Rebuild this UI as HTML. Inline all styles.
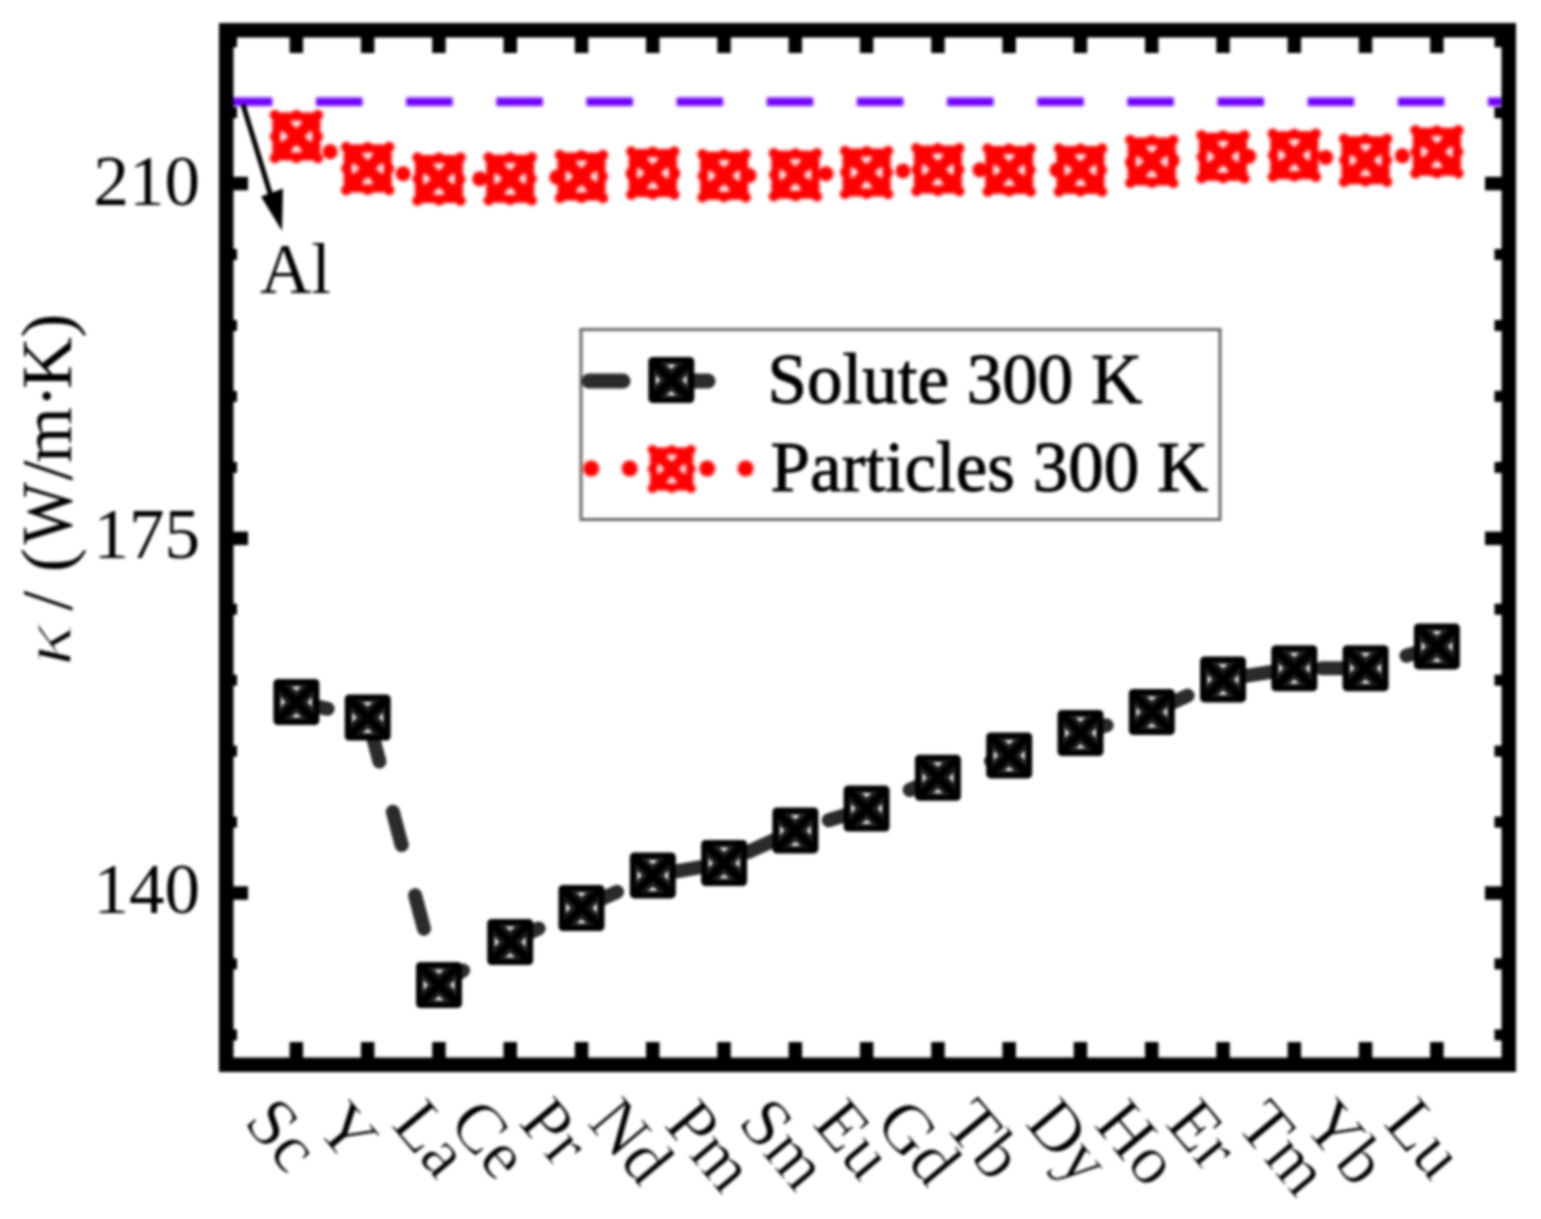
<!DOCTYPE html>
<html><head><meta charset="utf-8"><title>Thermal conductivity chart</title>
<style>html,body{margin:0;padding:0;background:#fff;}svg{display:block;filter:blur(1.4px);}</style></head>
<body><svg width="1541" height="1219" viewBox="0 0 1541 1219">
<defs><filter id="cb" filterUnits="userSpaceOnUse" x="0" y="0" width="1541" height="1219"><feGaussianBlur stdDeviation="1.3"/></filter></defs>
<rect width="1541" height="1219" fill="#fff"/>
<line x1="225.85" y1="101.8" x2="1502" y2="101.8" stroke="#7000ff" stroke-width="8.5" stroke-dasharray="46.5 43.65" filter="url(#cb)"/>
<polyline points="296.4,702.0 367.7,717.5 439.0,985.0 510.2,942.0 581.5,908.0 652.8,875.4 724.1,863.0 795.4,830.4 866.6,808.6 937.9,777.7 1009.2,755.4 1080.5,733.0 1151.8,712.0 1223.0,679.4 1294.3,668.3 1365.6,668.3 1436.9,646.4" fill="none" stroke="#2b2b2b" stroke-width="14" stroke-linecap="round" stroke-linejoin="round" stroke-dasharray="34.5 52" stroke-dashoffset="2.5"/>
<polyline points="296.4,136.5 367.7,168.5 439.0,179.0 510.2,178.7 581.5,176.5 652.8,173.0 724.1,175.8 795.4,174.8 866.6,172.4 937.9,169.6 1009.2,170.0 1080.5,170.0 1151.8,161.4 1223.0,156.8 1294.3,155.2 1365.6,160.2 1436.9,151.8" fill="none" stroke="#f00" stroke-width="15" stroke-linecap="round" stroke-dasharray="0 38.5" stroke-dashoffset="1.5" filter="url(#cb)"/>
<g transform="translate(296.4,702.0)"><rect x="-23" y="-23" width="46" height="46" rx="4.5" fill="#000"/><rect x="-17.5" y="-17.5" width="35" height="35" fill="#1f1f1f"/><path d="M-17.5,-17.5 L17.5,17.5 M17.5,-17.5 L-17.5,17.5" stroke="#000" stroke-width="7.5"/><path d="M-5,-15.5 L5,-15.5 L0,-11 Z M-5,15.5 L5,15.5 L0,11 Z M-15.5,-5 L-15.5,5 L-11,0 Z M15.5,-5 L15.5,5 L11,0 Z" fill="#e0e0e0"/></g>
<g transform="translate(367.7,717.5)"><rect x="-23" y="-23" width="46" height="46" rx="4.5" fill="#000"/><rect x="-17.5" y="-17.5" width="35" height="35" fill="#1f1f1f"/><path d="M-17.5,-17.5 L17.5,17.5 M17.5,-17.5 L-17.5,17.5" stroke="#000" stroke-width="7.5"/><path d="M-5,-15.5 L5,-15.5 L0,-11 Z M-5,15.5 L5,15.5 L0,11 Z M-15.5,-5 L-15.5,5 L-11,0 Z M15.5,-5 L15.5,5 L11,0 Z" fill="#e0e0e0"/></g>
<g transform="translate(439.0,985.0)"><rect x="-23" y="-23" width="46" height="46" rx="4.5" fill="#000"/><rect x="-17.5" y="-17.5" width="35" height="35" fill="#1f1f1f"/><path d="M-17.5,-17.5 L17.5,17.5 M17.5,-17.5 L-17.5,17.5" stroke="#000" stroke-width="7.5"/><path d="M-5,-15.5 L5,-15.5 L0,-11 Z M-5,15.5 L5,15.5 L0,11 Z M-15.5,-5 L-15.5,5 L-11,0 Z M15.5,-5 L15.5,5 L11,0 Z" fill="#e0e0e0"/></g>
<g transform="translate(510.2,942.0)"><rect x="-23" y="-23" width="46" height="46" rx="4.5" fill="#000"/><rect x="-17.5" y="-17.5" width="35" height="35" fill="#1f1f1f"/><path d="M-17.5,-17.5 L17.5,17.5 M17.5,-17.5 L-17.5,17.5" stroke="#000" stroke-width="7.5"/><path d="M-5,-15.5 L5,-15.5 L0,-11 Z M-5,15.5 L5,15.5 L0,11 Z M-15.5,-5 L-15.5,5 L-11,0 Z M15.5,-5 L15.5,5 L11,0 Z" fill="#e0e0e0"/></g>
<g transform="translate(581.5,908.0)"><rect x="-23" y="-23" width="46" height="46" rx="4.5" fill="#000"/><rect x="-17.5" y="-17.5" width="35" height="35" fill="#1f1f1f"/><path d="M-17.5,-17.5 L17.5,17.5 M17.5,-17.5 L-17.5,17.5" stroke="#000" stroke-width="7.5"/><path d="M-5,-15.5 L5,-15.5 L0,-11 Z M-5,15.5 L5,15.5 L0,11 Z M-15.5,-5 L-15.5,5 L-11,0 Z M15.5,-5 L15.5,5 L11,0 Z" fill="#e0e0e0"/></g>
<g transform="translate(652.8,875.4)"><rect x="-23" y="-23" width="46" height="46" rx="4.5" fill="#000"/><rect x="-17.5" y="-17.5" width="35" height="35" fill="#1f1f1f"/><path d="M-17.5,-17.5 L17.5,17.5 M17.5,-17.5 L-17.5,17.5" stroke="#000" stroke-width="7.5"/><path d="M-5,-15.5 L5,-15.5 L0,-11 Z M-5,15.5 L5,15.5 L0,11 Z M-15.5,-5 L-15.5,5 L-11,0 Z M15.5,-5 L15.5,5 L11,0 Z" fill="#e0e0e0"/></g>
<g transform="translate(724.1,863.0)"><rect x="-23" y="-23" width="46" height="46" rx="4.5" fill="#000"/><rect x="-17.5" y="-17.5" width="35" height="35" fill="#1f1f1f"/><path d="M-17.5,-17.5 L17.5,17.5 M17.5,-17.5 L-17.5,17.5" stroke="#000" stroke-width="7.5"/><path d="M-5,-15.5 L5,-15.5 L0,-11 Z M-5,15.5 L5,15.5 L0,11 Z M-15.5,-5 L-15.5,5 L-11,0 Z M15.5,-5 L15.5,5 L11,0 Z" fill="#e0e0e0"/></g>
<g transform="translate(795.4,830.4)"><rect x="-23" y="-23" width="46" height="46" rx="4.5" fill="#000"/><rect x="-17.5" y="-17.5" width="35" height="35" fill="#1f1f1f"/><path d="M-17.5,-17.5 L17.5,17.5 M17.5,-17.5 L-17.5,17.5" stroke="#000" stroke-width="7.5"/><path d="M-5,-15.5 L5,-15.5 L0,-11 Z M-5,15.5 L5,15.5 L0,11 Z M-15.5,-5 L-15.5,5 L-11,0 Z M15.5,-5 L15.5,5 L11,0 Z" fill="#e0e0e0"/></g>
<g transform="translate(866.6,808.6)"><rect x="-23" y="-23" width="46" height="46" rx="4.5" fill="#000"/><rect x="-17.5" y="-17.5" width="35" height="35" fill="#1f1f1f"/><path d="M-17.5,-17.5 L17.5,17.5 M17.5,-17.5 L-17.5,17.5" stroke="#000" stroke-width="7.5"/><path d="M-5,-15.5 L5,-15.5 L0,-11 Z M-5,15.5 L5,15.5 L0,11 Z M-15.5,-5 L-15.5,5 L-11,0 Z M15.5,-5 L15.5,5 L11,0 Z" fill="#e0e0e0"/></g>
<g transform="translate(937.9,777.7)"><rect x="-23" y="-23" width="46" height="46" rx="4.5" fill="#000"/><rect x="-17.5" y="-17.5" width="35" height="35" fill="#1f1f1f"/><path d="M-17.5,-17.5 L17.5,17.5 M17.5,-17.5 L-17.5,17.5" stroke="#000" stroke-width="7.5"/><path d="M-5,-15.5 L5,-15.5 L0,-11 Z M-5,15.5 L5,15.5 L0,11 Z M-15.5,-5 L-15.5,5 L-11,0 Z M15.5,-5 L15.5,5 L11,0 Z" fill="#e0e0e0"/></g>
<g transform="translate(1009.2,755.4)"><rect x="-23" y="-23" width="46" height="46" rx="4.5" fill="#000"/><rect x="-17.5" y="-17.5" width="35" height="35" fill="#1f1f1f"/><path d="M-17.5,-17.5 L17.5,17.5 M17.5,-17.5 L-17.5,17.5" stroke="#000" stroke-width="7.5"/><path d="M-5,-15.5 L5,-15.5 L0,-11 Z M-5,15.5 L5,15.5 L0,11 Z M-15.5,-5 L-15.5,5 L-11,0 Z M15.5,-5 L15.5,5 L11,0 Z" fill="#e0e0e0"/></g>
<g transform="translate(1080.5,733.0)"><rect x="-23" y="-23" width="46" height="46" rx="4.5" fill="#000"/><rect x="-17.5" y="-17.5" width="35" height="35" fill="#1f1f1f"/><path d="M-17.5,-17.5 L17.5,17.5 M17.5,-17.5 L-17.5,17.5" stroke="#000" stroke-width="7.5"/><path d="M-5,-15.5 L5,-15.5 L0,-11 Z M-5,15.5 L5,15.5 L0,11 Z M-15.5,-5 L-15.5,5 L-11,0 Z M15.5,-5 L15.5,5 L11,0 Z" fill="#e0e0e0"/></g>
<g transform="translate(1151.8,712.0)"><rect x="-23" y="-23" width="46" height="46" rx="4.5" fill="#000"/><rect x="-17.5" y="-17.5" width="35" height="35" fill="#1f1f1f"/><path d="M-17.5,-17.5 L17.5,17.5 M17.5,-17.5 L-17.5,17.5" stroke="#000" stroke-width="7.5"/><path d="M-5,-15.5 L5,-15.5 L0,-11 Z M-5,15.5 L5,15.5 L0,11 Z M-15.5,-5 L-15.5,5 L-11,0 Z M15.5,-5 L15.5,5 L11,0 Z" fill="#e0e0e0"/></g>
<g transform="translate(1223.0,679.4)"><rect x="-23" y="-23" width="46" height="46" rx="4.5" fill="#000"/><rect x="-17.5" y="-17.5" width="35" height="35" fill="#1f1f1f"/><path d="M-17.5,-17.5 L17.5,17.5 M17.5,-17.5 L-17.5,17.5" stroke="#000" stroke-width="7.5"/><path d="M-5,-15.5 L5,-15.5 L0,-11 Z M-5,15.5 L5,15.5 L0,11 Z M-15.5,-5 L-15.5,5 L-11,0 Z M15.5,-5 L15.5,5 L11,0 Z" fill="#e0e0e0"/></g>
<g transform="translate(1294.3,668.3)"><rect x="-23" y="-23" width="46" height="46" rx="4.5" fill="#000"/><rect x="-17.5" y="-17.5" width="35" height="35" fill="#1f1f1f"/><path d="M-17.5,-17.5 L17.5,17.5 M17.5,-17.5 L-17.5,17.5" stroke="#000" stroke-width="7.5"/><path d="M-5,-15.5 L5,-15.5 L0,-11 Z M-5,15.5 L5,15.5 L0,11 Z M-15.5,-5 L-15.5,5 L-11,0 Z M15.5,-5 L15.5,5 L11,0 Z" fill="#e0e0e0"/></g>
<g transform="translate(1365.6,668.3)"><rect x="-23" y="-23" width="46" height="46" rx="4.5" fill="#000"/><rect x="-17.5" y="-17.5" width="35" height="35" fill="#1f1f1f"/><path d="M-17.5,-17.5 L17.5,17.5 M17.5,-17.5 L-17.5,17.5" stroke="#000" stroke-width="7.5"/><path d="M-5,-15.5 L5,-15.5 L0,-11 Z M-5,15.5 L5,15.5 L0,11 Z M-15.5,-5 L-15.5,5 L-11,0 Z M15.5,-5 L15.5,5 L11,0 Z" fill="#e0e0e0"/></g>
<g transform="translate(1436.9,646.4)"><rect x="-23" y="-23" width="46" height="46" rx="4.5" fill="#000"/><rect x="-17.5" y="-17.5" width="35" height="35" fill="#1f1f1f"/><path d="M-17.5,-17.5 L17.5,17.5 M17.5,-17.5 L-17.5,17.5" stroke="#000" stroke-width="7.5"/><path d="M-5,-15.5 L5,-15.5 L0,-11 Z M-5,15.5 L5,15.5 L0,11 Z M-15.5,-5 L-15.5,5 L-11,0 Z M15.5,-5 L15.5,5 L11,0 Z" fill="#e0e0e0"/></g>
<g filter="url(#cb)">
<g transform="translate(296.4,136.5)" fill="#f00"><rect x="-24" y="-24" width="48" height="48" rx="9"/><circle cx="-21.5" cy="-21.5" r="5.2"/><circle cx="21.5" cy="-21.5" r="5.2"/><circle cx="-21.5" cy="21.5" r="5.2"/><circle cx="21.5" cy="21.5" r="5.2"/><circle cx="0" cy="-21" r="5.5"/><circle cx="0" cy="21" r="5.5"/><circle cx="-21" cy="0" r="5.5"/><circle cx="21" cy="0" r="5.5"/><path d="M-4,-14.5 L4,-14.5 L0,-10 Z M-4,14.5 L4,14.5 L0,10 Z M-14.5,-4 L-14.5,4 L-10,0 Z M14.5,-4 L14.5,4 L10,0 Z" fill="#fff0f0" stroke="#fff0f0" stroke-width="1.5" stroke-linejoin="round"/></g>
<g transform="translate(367.7,168.5)" fill="#f00"><rect x="-24" y="-24" width="48" height="48" rx="9"/><circle cx="-21.5" cy="-21.5" r="5.2"/><circle cx="21.5" cy="-21.5" r="5.2"/><circle cx="-21.5" cy="21.5" r="5.2"/><circle cx="21.5" cy="21.5" r="5.2"/><circle cx="0" cy="-21" r="5.5"/><circle cx="0" cy="21" r="5.5"/><circle cx="-21" cy="0" r="5.5"/><circle cx="21" cy="0" r="5.5"/><path d="M-4,-14.5 L4,-14.5 L0,-10 Z M-4,14.5 L4,14.5 L0,10 Z M-14.5,-4 L-14.5,4 L-10,0 Z M14.5,-4 L14.5,4 L10,0 Z" fill="#fff0f0" stroke="#fff0f0" stroke-width="1.5" stroke-linejoin="round"/></g>
<g transform="translate(439.0,179.0)" fill="#f00"><rect x="-24" y="-24" width="48" height="48" rx="9"/><circle cx="-21.5" cy="-21.5" r="5.2"/><circle cx="21.5" cy="-21.5" r="5.2"/><circle cx="-21.5" cy="21.5" r="5.2"/><circle cx="21.5" cy="21.5" r="5.2"/><circle cx="0" cy="-21" r="5.5"/><circle cx="0" cy="21" r="5.5"/><circle cx="-21" cy="0" r="5.5"/><circle cx="21" cy="0" r="5.5"/><path d="M-4,-14.5 L4,-14.5 L0,-10 Z M-4,14.5 L4,14.5 L0,10 Z M-14.5,-4 L-14.5,4 L-10,0 Z M14.5,-4 L14.5,4 L10,0 Z" fill="#fff0f0" stroke="#fff0f0" stroke-width="1.5" stroke-linejoin="round"/></g>
<g transform="translate(510.2,178.7)" fill="#f00"><rect x="-24" y="-24" width="48" height="48" rx="9"/><circle cx="-21.5" cy="-21.5" r="5.2"/><circle cx="21.5" cy="-21.5" r="5.2"/><circle cx="-21.5" cy="21.5" r="5.2"/><circle cx="21.5" cy="21.5" r="5.2"/><circle cx="0" cy="-21" r="5.5"/><circle cx="0" cy="21" r="5.5"/><circle cx="-21" cy="0" r="5.5"/><circle cx="21" cy="0" r="5.5"/><path d="M-4,-14.5 L4,-14.5 L0,-10 Z M-4,14.5 L4,14.5 L0,10 Z M-14.5,-4 L-14.5,4 L-10,0 Z M14.5,-4 L14.5,4 L10,0 Z" fill="#fff0f0" stroke="#fff0f0" stroke-width="1.5" stroke-linejoin="round"/></g>
<g transform="translate(581.5,176.5)" fill="#f00"><rect x="-24" y="-24" width="48" height="48" rx="9"/><circle cx="-21.5" cy="-21.5" r="5.2"/><circle cx="21.5" cy="-21.5" r="5.2"/><circle cx="-21.5" cy="21.5" r="5.2"/><circle cx="21.5" cy="21.5" r="5.2"/><circle cx="0" cy="-21" r="5.5"/><circle cx="0" cy="21" r="5.5"/><circle cx="-21" cy="0" r="5.5"/><circle cx="21" cy="0" r="5.5"/><path d="M-4,-14.5 L4,-14.5 L0,-10 Z M-4,14.5 L4,14.5 L0,10 Z M-14.5,-4 L-14.5,4 L-10,0 Z M14.5,-4 L14.5,4 L10,0 Z" fill="#fff0f0" stroke="#fff0f0" stroke-width="1.5" stroke-linejoin="round"/></g>
<g transform="translate(652.8,173.0)" fill="#f00"><rect x="-24" y="-24" width="48" height="48" rx="9"/><circle cx="-21.5" cy="-21.5" r="5.2"/><circle cx="21.5" cy="-21.5" r="5.2"/><circle cx="-21.5" cy="21.5" r="5.2"/><circle cx="21.5" cy="21.5" r="5.2"/><circle cx="0" cy="-21" r="5.5"/><circle cx="0" cy="21" r="5.5"/><circle cx="-21" cy="0" r="5.5"/><circle cx="21" cy="0" r="5.5"/><path d="M-4,-14.5 L4,-14.5 L0,-10 Z M-4,14.5 L4,14.5 L0,10 Z M-14.5,-4 L-14.5,4 L-10,0 Z M14.5,-4 L14.5,4 L10,0 Z" fill="#fff0f0" stroke="#fff0f0" stroke-width="1.5" stroke-linejoin="round"/></g>
<g transform="translate(724.1,175.8)" fill="#f00"><rect x="-24" y="-24" width="48" height="48" rx="9"/><circle cx="-21.5" cy="-21.5" r="5.2"/><circle cx="21.5" cy="-21.5" r="5.2"/><circle cx="-21.5" cy="21.5" r="5.2"/><circle cx="21.5" cy="21.5" r="5.2"/><circle cx="0" cy="-21" r="5.5"/><circle cx="0" cy="21" r="5.5"/><circle cx="-21" cy="0" r="5.5"/><circle cx="21" cy="0" r="5.5"/><path d="M-4,-14.5 L4,-14.5 L0,-10 Z M-4,14.5 L4,14.5 L0,10 Z M-14.5,-4 L-14.5,4 L-10,0 Z M14.5,-4 L14.5,4 L10,0 Z" fill="#fff0f0" stroke="#fff0f0" stroke-width="1.5" stroke-linejoin="round"/></g>
<g transform="translate(795.4,174.8)" fill="#f00"><rect x="-24" y="-24" width="48" height="48" rx="9"/><circle cx="-21.5" cy="-21.5" r="5.2"/><circle cx="21.5" cy="-21.5" r="5.2"/><circle cx="-21.5" cy="21.5" r="5.2"/><circle cx="21.5" cy="21.5" r="5.2"/><circle cx="0" cy="-21" r="5.5"/><circle cx="0" cy="21" r="5.5"/><circle cx="-21" cy="0" r="5.5"/><circle cx="21" cy="0" r="5.5"/><path d="M-4,-14.5 L4,-14.5 L0,-10 Z M-4,14.5 L4,14.5 L0,10 Z M-14.5,-4 L-14.5,4 L-10,0 Z M14.5,-4 L14.5,4 L10,0 Z" fill="#fff0f0" stroke="#fff0f0" stroke-width="1.5" stroke-linejoin="round"/></g>
<g transform="translate(866.6,172.4)" fill="#f00"><rect x="-24" y="-24" width="48" height="48" rx="9"/><circle cx="-21.5" cy="-21.5" r="5.2"/><circle cx="21.5" cy="-21.5" r="5.2"/><circle cx="-21.5" cy="21.5" r="5.2"/><circle cx="21.5" cy="21.5" r="5.2"/><circle cx="0" cy="-21" r="5.5"/><circle cx="0" cy="21" r="5.5"/><circle cx="-21" cy="0" r="5.5"/><circle cx="21" cy="0" r="5.5"/><path d="M-4,-14.5 L4,-14.5 L0,-10 Z M-4,14.5 L4,14.5 L0,10 Z M-14.5,-4 L-14.5,4 L-10,0 Z M14.5,-4 L14.5,4 L10,0 Z" fill="#fff0f0" stroke="#fff0f0" stroke-width="1.5" stroke-linejoin="round"/></g>
<g transform="translate(937.9,169.6)" fill="#f00"><rect x="-24" y="-24" width="48" height="48" rx="9"/><circle cx="-21.5" cy="-21.5" r="5.2"/><circle cx="21.5" cy="-21.5" r="5.2"/><circle cx="-21.5" cy="21.5" r="5.2"/><circle cx="21.5" cy="21.5" r="5.2"/><circle cx="0" cy="-21" r="5.5"/><circle cx="0" cy="21" r="5.5"/><circle cx="-21" cy="0" r="5.5"/><circle cx="21" cy="0" r="5.5"/><path d="M-4,-14.5 L4,-14.5 L0,-10 Z M-4,14.5 L4,14.5 L0,10 Z M-14.5,-4 L-14.5,4 L-10,0 Z M14.5,-4 L14.5,4 L10,0 Z" fill="#fff0f0" stroke="#fff0f0" stroke-width="1.5" stroke-linejoin="round"/></g>
<g transform="translate(1009.2,170.0)" fill="#f00"><rect x="-24" y="-24" width="48" height="48" rx="9"/><circle cx="-21.5" cy="-21.5" r="5.2"/><circle cx="21.5" cy="-21.5" r="5.2"/><circle cx="-21.5" cy="21.5" r="5.2"/><circle cx="21.5" cy="21.5" r="5.2"/><circle cx="0" cy="-21" r="5.5"/><circle cx="0" cy="21" r="5.5"/><circle cx="-21" cy="0" r="5.5"/><circle cx="21" cy="0" r="5.5"/><path d="M-4,-14.5 L4,-14.5 L0,-10 Z M-4,14.5 L4,14.5 L0,10 Z M-14.5,-4 L-14.5,4 L-10,0 Z M14.5,-4 L14.5,4 L10,0 Z" fill="#fff0f0" stroke="#fff0f0" stroke-width="1.5" stroke-linejoin="round"/></g>
<g transform="translate(1080.5,170.0)" fill="#f00"><rect x="-24" y="-24" width="48" height="48" rx="9"/><circle cx="-21.5" cy="-21.5" r="5.2"/><circle cx="21.5" cy="-21.5" r="5.2"/><circle cx="-21.5" cy="21.5" r="5.2"/><circle cx="21.5" cy="21.5" r="5.2"/><circle cx="0" cy="-21" r="5.5"/><circle cx="0" cy="21" r="5.5"/><circle cx="-21" cy="0" r="5.5"/><circle cx="21" cy="0" r="5.5"/><path d="M-4,-14.5 L4,-14.5 L0,-10 Z M-4,14.5 L4,14.5 L0,10 Z M-14.5,-4 L-14.5,4 L-10,0 Z M14.5,-4 L14.5,4 L10,0 Z" fill="#fff0f0" stroke="#fff0f0" stroke-width="1.5" stroke-linejoin="round"/></g>
<g transform="translate(1151.8,161.4)" fill="#f00"><rect x="-24" y="-24" width="48" height="48" rx="9"/><circle cx="-21.5" cy="-21.5" r="5.2"/><circle cx="21.5" cy="-21.5" r="5.2"/><circle cx="-21.5" cy="21.5" r="5.2"/><circle cx="21.5" cy="21.5" r="5.2"/><circle cx="0" cy="-21" r="5.5"/><circle cx="0" cy="21" r="5.5"/><circle cx="-21" cy="0" r="5.5"/><circle cx="21" cy="0" r="5.5"/><path d="M-4,-14.5 L4,-14.5 L0,-10 Z M-4,14.5 L4,14.5 L0,10 Z M-14.5,-4 L-14.5,4 L-10,0 Z M14.5,-4 L14.5,4 L10,0 Z" fill="#fff0f0" stroke="#fff0f0" stroke-width="1.5" stroke-linejoin="round"/></g>
<g transform="translate(1223.0,156.8)" fill="#f00"><rect x="-24" y="-24" width="48" height="48" rx="9"/><circle cx="-21.5" cy="-21.5" r="5.2"/><circle cx="21.5" cy="-21.5" r="5.2"/><circle cx="-21.5" cy="21.5" r="5.2"/><circle cx="21.5" cy="21.5" r="5.2"/><circle cx="0" cy="-21" r="5.5"/><circle cx="0" cy="21" r="5.5"/><circle cx="-21" cy="0" r="5.5"/><circle cx="21" cy="0" r="5.5"/><path d="M-4,-14.5 L4,-14.5 L0,-10 Z M-4,14.5 L4,14.5 L0,10 Z M-14.5,-4 L-14.5,4 L-10,0 Z M14.5,-4 L14.5,4 L10,0 Z" fill="#fff0f0" stroke="#fff0f0" stroke-width="1.5" stroke-linejoin="round"/></g>
<g transform="translate(1294.3,155.2)" fill="#f00"><rect x="-24" y="-24" width="48" height="48" rx="9"/><circle cx="-21.5" cy="-21.5" r="5.2"/><circle cx="21.5" cy="-21.5" r="5.2"/><circle cx="-21.5" cy="21.5" r="5.2"/><circle cx="21.5" cy="21.5" r="5.2"/><circle cx="0" cy="-21" r="5.5"/><circle cx="0" cy="21" r="5.5"/><circle cx="-21" cy="0" r="5.5"/><circle cx="21" cy="0" r="5.5"/><path d="M-4,-14.5 L4,-14.5 L0,-10 Z M-4,14.5 L4,14.5 L0,10 Z M-14.5,-4 L-14.5,4 L-10,0 Z M14.5,-4 L14.5,4 L10,0 Z" fill="#fff0f0" stroke="#fff0f0" stroke-width="1.5" stroke-linejoin="round"/></g>
<g transform="translate(1365.6,160.2)" fill="#f00"><rect x="-24" y="-24" width="48" height="48" rx="9"/><circle cx="-21.5" cy="-21.5" r="5.2"/><circle cx="21.5" cy="-21.5" r="5.2"/><circle cx="-21.5" cy="21.5" r="5.2"/><circle cx="21.5" cy="21.5" r="5.2"/><circle cx="0" cy="-21" r="5.5"/><circle cx="0" cy="21" r="5.5"/><circle cx="-21" cy="0" r="5.5"/><circle cx="21" cy="0" r="5.5"/><path d="M-4,-14.5 L4,-14.5 L0,-10 Z M-4,14.5 L4,14.5 L0,10 Z M-14.5,-4 L-14.5,4 L-10,0 Z M14.5,-4 L14.5,4 L10,0 Z" fill="#fff0f0" stroke="#fff0f0" stroke-width="1.5" stroke-linejoin="round"/></g>
<g transform="translate(1436.9,151.8)" fill="#f00"><rect x="-24" y="-24" width="48" height="48" rx="9"/><circle cx="-21.5" cy="-21.5" r="5.2"/><circle cx="21.5" cy="-21.5" r="5.2"/><circle cx="-21.5" cy="21.5" r="5.2"/><circle cx="21.5" cy="21.5" r="5.2"/><circle cx="0" cy="-21" r="5.5"/><circle cx="0" cy="21" r="5.5"/><circle cx="-21" cy="0" r="5.5"/><circle cx="21" cy="0" r="5.5"/><path d="M-4,-14.5 L4,-14.5 L0,-10 Z M-4,14.5 L4,14.5 L0,10 Z M-14.5,-4 L-14.5,4 L-10,0 Z M14.5,-4 L14.5,4 L10,0 Z" fill="#fff0f0" stroke="#fff0f0" stroke-width="1.5" stroke-linejoin="round"/></g>
</g>
<rect x="226.25" y="30.25" width="1282.5" height="1034.5" fill="none" stroke="#000" stroke-width="14.5"/>
<rect x="289.6" y="1042.0" width="13.5" height="16" fill="#000"/>
<rect x="289.6" y="37.0" width="13.5" height="16" fill="#000"/>
<rect x="360.9" y="1042.0" width="13.5" height="16" fill="#000"/>
<rect x="360.9" y="37.0" width="13.5" height="16" fill="#000"/>
<rect x="432.2" y="1042.0" width="13.5" height="16" fill="#000"/>
<rect x="432.2" y="37.0" width="13.5" height="16" fill="#000"/>
<rect x="503.5" y="1042.0" width="13.5" height="16" fill="#000"/>
<rect x="503.5" y="37.0" width="13.5" height="16" fill="#000"/>
<rect x="574.8" y="1042.0" width="13.5" height="16" fill="#000"/>
<rect x="574.8" y="37.0" width="13.5" height="16" fill="#000"/>
<rect x="646.0" y="1042.0" width="13.5" height="16" fill="#000"/>
<rect x="646.0" y="37.0" width="13.5" height="16" fill="#000"/>
<rect x="717.3" y="1042.0" width="13.5" height="16" fill="#000"/>
<rect x="717.3" y="37.0" width="13.5" height="16" fill="#000"/>
<rect x="788.6" y="1042.0" width="13.5" height="16" fill="#000"/>
<rect x="788.6" y="37.0" width="13.5" height="16" fill="#000"/>
<rect x="859.9" y="1042.0" width="13.5" height="16" fill="#000"/>
<rect x="859.9" y="37.0" width="13.5" height="16" fill="#000"/>
<rect x="931.2" y="1042.0" width="13.5" height="16" fill="#000"/>
<rect x="931.2" y="37.0" width="13.5" height="16" fill="#000"/>
<rect x="1002.4" y="1042.0" width="13.5" height="16" fill="#000"/>
<rect x="1002.4" y="37.0" width="13.5" height="16" fill="#000"/>
<rect x="1073.7" y="1042.0" width="13.5" height="16" fill="#000"/>
<rect x="1073.7" y="37.0" width="13.5" height="16" fill="#000"/>
<rect x="1145.0" y="1042.0" width="13.5" height="16" fill="#000"/>
<rect x="1145.0" y="37.0" width="13.5" height="16" fill="#000"/>
<rect x="1216.3" y="1042.0" width="13.5" height="16" fill="#000"/>
<rect x="1216.3" y="37.0" width="13.5" height="16" fill="#000"/>
<rect x="1287.6" y="1042.0" width="13.5" height="16" fill="#000"/>
<rect x="1287.6" y="37.0" width="13.5" height="16" fill="#000"/>
<rect x="1358.8" y="1042.0" width="13.5" height="16" fill="#000"/>
<rect x="1358.8" y="37.0" width="13.5" height="16" fill="#000"/>
<rect x="1430.1" y="1042.0" width="13.5" height="16" fill="#000"/>
<rect x="1430.1" y="37.0" width="13.5" height="16" fill="#000"/>
<rect x="233.0" y="176.8" width="15" height="13.5" fill="#000"/>
<rect x="1485.0" y="176.8" width="17" height="13.5" fill="#000"/>
<rect x="233.0" y="531.6" width="15" height="13.5" fill="#000"/>
<rect x="1485.0" y="531.6" width="17" height="13.5" fill="#000"/>
<rect x="233.0" y="886.3" width="15" height="13.5" fill="#000"/>
<rect x="1485.0" y="886.3" width="17" height="13.5" fill="#000"/>
<rect x="233.0" y="36.2" width="4" height="11" fill="#000"/>
<rect x="1494.5" y="36.2" width="7.5" height="11" fill="#000"/>
<rect x="233.0" y="107.2" width="4" height="11" fill="#000"/>
<rect x="1494.5" y="107.2" width="7.5" height="11" fill="#000"/>
<rect x="233.0" y="249.0" width="4" height="11" fill="#000"/>
<rect x="1494.5" y="249.0" width="7.5" height="11" fill="#000"/>
<rect x="233.0" y="320.0" width="4" height="11" fill="#000"/>
<rect x="1494.5" y="320.0" width="7.5" height="11" fill="#000"/>
<rect x="233.0" y="390.9" width="4" height="11" fill="#000"/>
<rect x="1494.5" y="390.9" width="7.5" height="11" fill="#000"/>
<rect x="233.0" y="461.9" width="4" height="11" fill="#000"/>
<rect x="1494.5" y="461.9" width="7.5" height="11" fill="#000"/>
<rect x="233.0" y="603.7" width="4" height="11" fill="#000"/>
<rect x="1494.5" y="603.7" width="7.5" height="11" fill="#000"/>
<rect x="233.0" y="674.7" width="4" height="11" fill="#000"/>
<rect x="1494.5" y="674.7" width="7.5" height="11" fill="#000"/>
<rect x="233.0" y="745.6" width="4" height="11" fill="#000"/>
<rect x="1494.5" y="745.6" width="7.5" height="11" fill="#000"/>
<rect x="233.0" y="816.6" width="4" height="11" fill="#000"/>
<rect x="1494.5" y="816.6" width="7.5" height="11" fill="#000"/>
<rect x="233.0" y="958.4" width="4" height="11" fill="#000"/>
<rect x="1494.5" y="958.4" width="7.5" height="11" fill="#000"/>
<rect x="233.0" y="1029.4" width="4" height="11" fill="#000"/>
<rect x="1494.5" y="1029.4" width="7.5" height="11" fill="#000"/>
<line x1="243" y1="104.5" x2="274" y2="206" stroke="#000" stroke-width="5"/>
<path d="M261,196.5 L283,188.5 L282,231 Z" fill="#000"/>
<text x="200" y="205.2" font-family="'Liberation Serif','Times New Roman',serif" font-size="71" text-anchor="end" fill="#000">210</text>
<text x="200" y="558.1" font-family="'Liberation Serif','Times New Roman',serif" font-size="71" text-anchor="end" fill="#000">175</text>
<text x="200" y="912.8" font-family="'Liberation Serif','Times New Roman',serif" font-size="71" text-anchor="end" fill="#000">140</text>
<text x="260" y="293" font-family="'Liberation Serif','Times New Roman',serif" font-size="71" fill="#000">Al</text>
<text transform="translate(70.5,0) rotate(-90)" font-family="'Liberation Serif','Times New Roman',serif" font-size="72" fill="#000"><tspan x="-666.2" font-style="italic" textLength="43.8" lengthAdjust="spacingAndGlyphs" stroke="#fff" stroke-width="1.6">κ</tspan> <tspan x="-610.7">/</tspan> <tspan x="-572.3">(</tspan><tspan x="-544.2" textLength="61.8" lengthAdjust="spacingAndGlyphs">W</tspan><tspan x="-480.6 -462.9 -408 -389 -337.5">/m·K)</tspan></text>
<text transform="translate(242.5,1122.8) rotate(50)" font-family="'Liberation Serif','Times New Roman',serif" stroke="#fff" stroke-width="0.7" font-size="70" fill="#000">Sc</text>
<text transform="translate(313.6,1126.9) rotate(50)" font-family="'Liberation Serif','Times New Roman',serif" stroke="#fff" stroke-width="0.7" font-size="70" fill="#000">Y</text>
<text transform="translate(389.9,1124.9) rotate(50)" font-family="'Liberation Serif','Times New Roman',serif" stroke="#fff" stroke-width="0.7" font-size="70" fill="#000">La</text>
<text transform="translate(447.1,1124.0) rotate(50)" font-family="'Liberation Serif','Times New Roman',serif" stroke="#fff" stroke-width="0.7" font-size="70" fill="#000">Ce</text>
<text transform="translate(517.3,1122.8) rotate(50)" font-family="'Liberation Serif','Times New Roman',serif" stroke="#fff" stroke-width="0.7" font-size="70" fill="#000">Pr</text>
<text transform="translate(586.1,1123.0) rotate(50)" font-family="'Liberation Serif','Times New Roman',serif" stroke="#fff" stroke-width="0.7" font-size="70" fill="#000">Nd</text>
<text transform="translate(662.7,1124.9) rotate(50)" font-family="'Liberation Serif','Times New Roman',serif" stroke="#fff" stroke-width="0.7" font-size="70" fill="#000">Pm</text>
<text transform="translate(736.5,1122.9) rotate(50)" font-family="'Liberation Serif','Times New Roman',serif" stroke="#fff" stroke-width="0.7" font-size="70" fill="#000">Sm</text>
<text transform="translate(811.1,1123.9) rotate(50)" font-family="'Liberation Serif','Times New Roman',serif" stroke="#fff" stroke-width="0.7" font-size="70" fill="#000">Eu</text>
<text transform="translate(873.4,1124.0) rotate(50)" font-family="'Liberation Serif','Times New Roman',serif" stroke="#fff" stroke-width="0.7" font-size="70" fill="#000">Gd</text>
<text transform="translate(942.1,1124.5) rotate(50)" font-family="'Liberation Serif','Times New Roman',serif" stroke="#fff" stroke-width="0.7" font-size="70" fill="#000">Tb</text>
<text transform="translate(1023.8,1123.6) rotate(50)" font-family="'Liberation Serif','Times New Roman',serif" stroke="#fff" stroke-width="0.7" font-size="70" fill="#000">Dy</text>
<text transform="translate(1092.5,1124.7) rotate(50)" font-family="'Liberation Serif','Times New Roman',serif" stroke="#fff" stroke-width="0.7" font-size="70" fill="#000">Ho</text>
<text transform="translate(1164.1,1124.0) rotate(50)" font-family="'Liberation Serif','Times New Roman',serif" stroke="#fff" stroke-width="0.7" font-size="70" fill="#000">Er</text>
<text transform="translate(1234.7,1125.4) rotate(50)" font-family="'Liberation Serif','Times New Roman',serif" stroke="#fff" stroke-width="0.7" font-size="70" fill="#000">Tm</text>
<text transform="translate(1300.5,1124.3) rotate(50)" font-family="'Liberation Serif','Times New Roman',serif" stroke="#fff" stroke-width="0.7" font-size="70" fill="#000">Yb</text>
<text transform="translate(1382.0,1123.5) rotate(50)" font-family="'Liberation Serif','Times New Roman',serif" stroke="#fff" stroke-width="0.7" font-size="70" fill="#000">Lu</text>
<rect x="581" y="329.5" width="639" height="190" fill="#fff" stroke="#666" stroke-width="3"/>
<line x1="589" y1="381" x2="623" y2="381" stroke="#2b2b2b" stroke-width="15" stroke-linecap="round"/>
<line x1="690" y1="381" x2="708" y2="381" stroke="#2b2b2b" stroke-width="15" stroke-linecap="round"/>
<g transform="translate(671.3,380.0)"><rect x="-23" y="-23" width="46" height="46" rx="4.5" fill="#000"/><rect x="-17.5" y="-17.5" width="35" height="35" fill="#1f1f1f"/><path d="M-17.5,-17.5 L17.5,17.5 M17.5,-17.5 L-17.5,17.5" stroke="#000" stroke-width="7.5"/><path d="M-5,-15.5 L5,-15.5 L0,-11 Z M-5,15.5 L5,15.5 L0,11 Z M-15.5,-5 L-15.5,5 L-11,0 Z M15.5,-5 L15.5,5 L11,0 Z" fill="#e0e0e0"/></g>
<g filter="url(#cb)">
<circle cx="591.2" cy="468.5" r="8" fill="#f00"/>
<circle cx="629.7" cy="468.5" r="8" fill="#f00"/>
<circle cx="707.2" cy="468.5" r="8" fill="#f00"/>
<circle cx="745.6" cy="468.5" r="8" fill="#f00"/>
<g transform="translate(671.7,469.0) scale(0.9)" fill="#f00"><rect x="-24" y="-24" width="48" height="48" rx="9"/><circle cx="-21.5" cy="-21.5" r="5.2"/><circle cx="21.5" cy="-21.5" r="5.2"/><circle cx="-21.5" cy="21.5" r="5.2"/><circle cx="21.5" cy="21.5" r="5.2"/><circle cx="0" cy="-21" r="5.5"/><circle cx="0" cy="21" r="5.5"/><circle cx="-21" cy="0" r="5.5"/><circle cx="21" cy="0" r="5.5"/><path d="M-4,-14.5 L4,-14.5 L0,-10 Z M-4,14.5 L4,14.5 L0,10 Z M-14.5,-4 L-14.5,4 L-10,0 Z M14.5,-4 L14.5,4 L10,0 Z" fill="#fff0f0" stroke="#fff0f0" stroke-width="1.5" stroke-linejoin="round"/></g>
</g>
<text x="767.5" y="402.7" font-family="'Liberation Serif','Times New Roman',serif" font-size="71" fill="#000" stroke="#000" stroke-width="1">Solute 300 K</text>
<text x="770.5" y="491" font-family="'Liberation Serif','Times New Roman',serif" font-size="71" fill="#000" stroke="#000" stroke-width="1">Particles 300 K</text>
</svg></body></html>
